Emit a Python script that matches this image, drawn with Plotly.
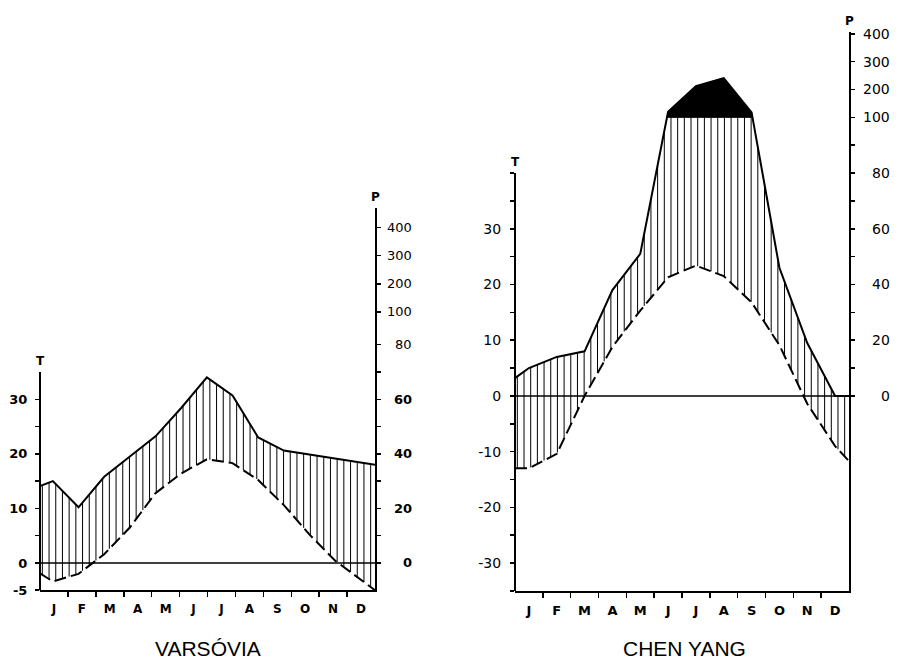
import numpy as np
import plotly.graph_objects as go

# The page keeps the browser's default 8 px body margin; the captured page is
# 899 x 671 CSS px and is shown at 899 x 663, so vertical positions are
# converted with SY.
WIN_W, CAP_H, OUT_H = 899, 671, 663
OFF = 8
SY = CAP_H / OUT_H
FW, FH = WIN_W - 2 * OFF, CAP_H - 2 * OFF


def pxx(sx):
    return (sx - OFF) / FW


def pxy(sy):
    return 1 - (sy * SY - OFF) / FH


months = ["J", "F", "M", "A", "M", "J", "J", "A", "S", "O", "N", "D"]

# ---------------- data ----------------
# Varsóvia: mean monthly temperature (°C) and precipitation (mm)
varsovia_temp = [-3.4, -2.0, 1.6, 6.5, 12.8, 16.4, 19.0, 18.3, 15.2, 10.6, 5.2, 0.4]
varsovia_prec = [30, 20.4, 31.6, 39, 46.4, 56.8, 68, 61.4, 46, 41.2, 39.8, 38.4]
varsovia_temp_edges = [-1.9, -5.0]   # curve values where it meets the left / right axes
varsovia_prec_edges = [28.2, 36.0]

# Chen Yang
chenyang_temp = [-13.0, -10.4, 0.0, 8.8, 15.3, 21.3, 23.4, 21.5, 16.8, 9.1, -1.4, -9.0]
chenyang_prec = [10, 14, 16, 38, 51, 120, 212, 241, 118, 46, 19, 0]
chenyang_temp_edges = [-13.0, -11.7]
chenyang_prec_edges = [6.4, 0.0]

# tick labels
varsovia_t_labels = [-5, 0, 10, 20, 30]
chenyang_t_labels = [-30, -20, -10, 0, 10, 20, 30]
p_labels = [0, 20, 40, 60, 80, 100, 200, 300, 400]

# ---------------- layout / style ----------------
panels = [
    dict(title="VARSÓVIA", temp=varsovia_temp, prec=varsovia_prec,
         temp_edges=varsovia_temp_edges, prec_edges=varsovia_prec_edges,
         t_labels=varsovia_t_labels, t_ticks=[-5, 0, 5, 10, 15, 20, 25, 30], t_top=35,
         p_ticks=[0, 10, 20, 30, 40, 50, 60, 70, 80, 100, 200, 300, 400],
         p_knots=[0, 80, 100, 400], pos_knots=[0, 40, 46, 61.5],
         left=40, right=375, bottom=590.3, top=208.3, xr=[-0.5, 12.55], yr=[-5, 65],
         p_label_right=414, title_x=207.5,
         tfont=dict(family="DejaVu Sans", size=13, color="black", weight="bold"),
         mfont=dict(family="DejaVu Sans", size=12, color="black", weight="bold"),
         bold_p=[0, 20, 40, 60], t_standoff=5),
    dict(title="CHEN YANG", temp=chenyang_temp, prec=chenyang_prec,
         temp_edges=chenyang_temp_edges, prec_edges=chenyang_prec_edges,
         t_labels=chenyang_t_labels, t_ticks=list(range(-35, 41, 5)), t_top=40,
         p_ticks=[0, 10, 20, 30, 40, 50, 60, 70, 80, 90, 100, 200, 300, 400],
         p_knots=[0, 100, 400], pos_knots=[0, 50, 65],
         left=515, right=849, bottom=591, top=32, xr=[-0.5, 11.5], yr=[-35, 65.3],
         p_label_right=892, title_x=684,
         tfont=dict(family="DejaVu Sans", size=14, color="black"),
         mfont=dict(family="DejaVu Sans", size=13, color="black", weight="bold"),
         bold_p=[], t_standoff=6),
]

fig = go.Figure()
annotations = []
shapes = []
layout = {}

for i, pn in enumerate(panels):
    xn = "x" if i == 0 else "x2"
    yt = "y" if i == 0 else "y3"
    yp = "y2" if i == 0 else "y4"
    xr0, xr1 = pn["xr"]
    yr0, yr1 = pn["yr"]
    xd = [pxx(pn["left"]), pxx(pn["right"])]
    yd = [pxy(pn["bottom"]), pxy(pn["top"])]

    def ypaper(v, yd=yd, yr0=yr0, yr1=yr1):
        return yd[0] + (v - yr0) / (yr1 - yr0) * (yd[1] - yd[0])

    def pscale(p, pn=pn):
        return np.interp(p, pn["p_knots"], pn["pos_knots"])

    xs = np.array([xr0] + list(range(12)) + [xr1], dtype=float)
    tt = np.array([pn["temp_edges"][0]] + pn["temp"] + [pn["temp_edges"][1]], dtype=float)
    pp = pscale(np.array([pn["prec_edges"][0]] + pn["prec"] + [pn["prec_edges"][1]], dtype=float))
    lvl = float(pscale(100))

    # hatching between temperature and precipitation curves
    n = 50
    hx = xr0 + (np.arange(n) + 0.35) * (xr1 - xr0) / n
    ht = np.interp(hx, xs, tt)
    hp = np.minimum(np.interp(hx, xs, pp), lvl)
    hxx, hyy = [], []
    for a, b, c in zip(hx, ht, hp):
        if c > b:
            hxx += [a, a, None]
            hyy += [b, c, None]
    fig.add_trace(go.Scatter(x=hxx, y=hyy, mode="lines", line=dict(color="black", width=1),
                             xaxis=xn, yaxis=yt, hoverinfo="skip", showlegend=False))

    # black area above 100 mm
    dx = np.union1d(np.linspace(xr0, xr1, 3000), xs)
    dp = np.interp(dx, xs, pp)
    mask = dp > lvl
    if mask.any():
        idx = np.where(mask)[0]
        i0, i1 = max(idx[0] - 1, 0), min(idx[-1] + 1, len(dx) - 1)
        seg_x = dx[i0:i1 + 1]
        seg_y = np.maximum(dp[i0:i1 + 1], lvl)
        px_ = list(seg_x) + list(seg_x[::-1])
        py_ = list(seg_y) + [lvl] * len(seg_x)
        fig.add_trace(go.Scatter(x=px_, y=py_, mode="lines", fill="toself", fillcolor="black",
                                 line=dict(color="black", width=1), xaxis=xn, yaxis=yt,
                                 hoverinfo="skip", showlegend=False))

    # temperature (dashed) on the T axis, precipitation (solid) on the P axis
    fig.add_trace(go.Scatter(x=xs, y=tt, mode="lines", line=dict(color="black", width=2, dash="12px,5px"),
                             xaxis=xn, yaxis=yt, showlegend=False, name="T"))
    fig.add_trace(go.Scatter(x=xs, y=pp, mode="lines", line=dict(color="black", width=2),
                             xaxis=xn, yaxis=yp, showlegend=False, name="P"))

    # zero line
    shapes.append(dict(type="line", xref=xn, yref=yt, x0=xr0, x1=xr1, y0=0, y1=0,
                       line=dict(color="black", width=1.5)))
    # temperature axis line
    shapes.append(dict(type="line", xref="paper", yref="paper", x0=xd[0], x1=xd[0],
                       y0=yd[0], y1=ypaper(pn["t_top"]), line=dict(color="black", width=2)))

    width = xr1 - xr0
    centers = [xr0 + (k + 0.5) * width / 12 for k in range(12)]
    bounds = [xr0 + k * width / 12 for k in range(1, 12)]
    axn = "xaxis" if i == 0 else "xaxis2"
    layout[axn] = dict(domain=xd, range=[xr0, xr1], anchor=yt, showline=True, linewidth=2,
                       linecolor="black", showgrid=False, zeroline=False, tickmode="array",
                       tickvals=centers, ticktext=months, ticks="", tickfont=pn["mfont"],
                       ticklabelstandoff=6,
                       minor=dict(tickmode="array", tickvals=bounds, ticks="outside", ticklen=5,
                                  tickwidth=1.5, tickcolor="black", showgrid=False),
                       fixedrange=True)
    ytn = "yaxis" if i == 0 else "yaxis3"
    layout[ytn] = dict(domain=yd, range=[yr0, yr1], anchor=xn, showline=False, showgrid=False,
                       zeroline=False, tickmode="array", tickvals=pn["t_ticks"],
                       ticktext=[str(v) if v in pn["t_labels"] else "" for v in pn["t_ticks"]],
                       ticks="outside", ticklen=4, tickwidth=1.5, tickcolor="black",
                       tickfont=pn["tfont"], ticklabelstandoff=pn["t_standoff"], fixedrange=True)
    ypn = "yaxis2" if i == 0 else "yaxis4"
    layout[ypn] = dict(range=[yr0, yr1], anchor=xn, overlaying=yt, side="right",
                       showline=True, linewidth=2, linecolor="black", showgrid=False, zeroline=False,
                       tickmode="array", tickvals=list(pscale(np.array(pn["p_ticks"], dtype=float))),
                       ticks="outside", ticklen=4, tickwidth=1.5, tickcolor="black",
                       showticklabels=False, fixedrange=True)

    for p in p_labels:
        f = dict(family="DejaVu Sans", size=14 if i == 1 else 13, color="black")
        if p in pn["bold_p"]:
            f["weight"] = "bold"
        annotations.append(dict(text=str(p), xref="paper", yref=yt, x=pxx(pn["p_label_right"]),
                                y=float(pscale(p)), xanchor="right", yanchor="middle",
                                showarrow=False, font=f))
    # axis letters
    annotations.append(dict(text="T", xref="paper", yref=yt, x=xd[0], y=pn["t_top"], yshift=11,
                            xanchor="center", yanchor="middle", showarrow=False,
                            font=dict(family="DejaVu Sans", size=12, color="black", weight="bold")))
    annotations.append(dict(text="P", xref="paper", yref=yt, x=xd[1], y=yr1, yshift=11,
                            xanchor="center", yanchor="middle", showarrow=False,
                            font=dict(family="DejaVu Sans", size=12, color="black", weight="bold")))
    # station name
    annotations.append(dict(text=pn["title"], xref="paper", yref="paper", x=pxx(pn["title_x"]),
                            y=pxy(649), xanchor="center", yanchor="middle", showarrow=False,
                            font=dict(family="Liberation Sans", size=21, color="black")))

fig.update_layout(width=FW, height=FH, margin=dict(l=0, r=0, t=0, b=0), paper_bgcolor="white",
                  plot_bgcolor="white", showlegend=False, annotations=annotations, shapes=shapes,
                  **layout)

fig.write_html("out.html", config={"displayModeBar": False, "staticPlot": True})
